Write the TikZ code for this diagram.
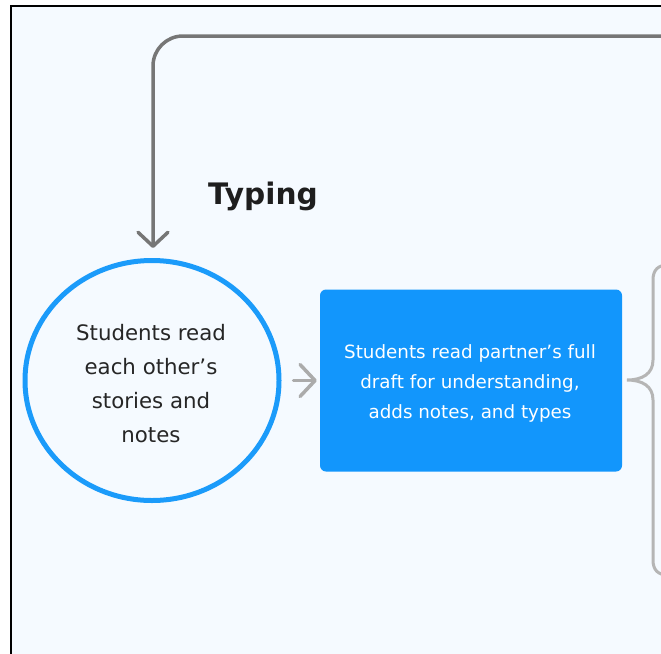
\documentclass[tikz,border=0pt]{standalone}
\usepackage{fontspec}
\setmainfont{DejaVu Sans}
\usetikzlibrary{shapes.geometric,arrows.meta}
\definecolor{bgc}{HTML}{F5FAFF}
\definecolor{txt}{HTML}{262626}
\definecolor{loopgray}{HTML}{767676}
\definecolor{lightgray2}{HTML}{ABABAB}
\definecolor{bracegray}{HTML}{B5B5B5}
\definecolor{ringblue}{HTML}{1B9BFA}
\definecolor{boxblue}{HTML}{1296FC}
\tikzset{
  chev/.style={-{Straight Barb[length=14pt,width=30pt,round]}},
  ringnode/.style={ellipse, draw=ringblue, line width=5pt, minimum width=254pt, minimum height=240pt, inner sep=0pt},
  ringtext/.style={inner sep=0pt, align=center, text=txt, font=\fontsize{21.3pt}{34pt}\selectfont},
  boxnode/.style={rectangle, rounded corners=6pt, fill=boxblue, minimum width=302pt, minimum height=182pt, inner sep=0pt},
  boxtext/.style={inner sep=0pt, align=center, text=white, font=\fontsize{18.3pt}{30pt}\selectfont},
  titlenode/.style={font=\bfseries\fontsize{29.6pt}{34pt}\selectfont, text=txt!80!black, inner sep=0pt, anchor=base west}
}
\begin{document}
\begin{tikzpicture}[x=1pt,y=-1pt]
\useasboundingbox (0,0) rectangle (661,653);
\fill[white] (0,0) rectangle (661,653);
\fill[bgc] (11,6) rectangle (700,700);
\draw[black, line width=2pt] (11,700) -- (11,6) -- (700,6);

\node[ringnode] (c) at (152,380.5) {};
\node[ringtext] (ct) at (151,383.5) {Students read\\each other’s\\stories and\\notes};
\node[boxnode] (r) at (471,380.5) {};
\node[boxtext] (rt) at (470,383.5) {Students read partner’s full\\draft for understanding,\\adds notes, and types};
\node[titlenode] (t) at (208,204) {Typing};

\coordinate (loopstart) at (700,36);
\coordinate (loopcorner) at (153,36);
\coordinate (looptip) at (153,248);
\draw[loopgray, line width=3.5pt, rounded corners=30pt, chev, line cap=round, line join=round] (loopstart) -- (loopcorner) -- (looptip);

\draw[lightgray2, line width=3.5pt, -{Straight Barb[length=15pt,width=32pt,round]}, line cap=round, line join=round, shorten <=12pt, shorten >=3pt] (c.east |- r.west) -- (r.west);

\draw[bracegray, line width=3pt] (700,265) -- (668,265) .. controls (658,265) and (653,270) .. (653,280) -- (653,360) .. controls (653,374) and (642,380) .. (627,380) .. controls (642,380) and (653,386) .. (653,400) -- (653,560) .. controls (653,570) and (658,575) .. (668,575) -- (700,575);
\end{tikzpicture}
\end{document}
